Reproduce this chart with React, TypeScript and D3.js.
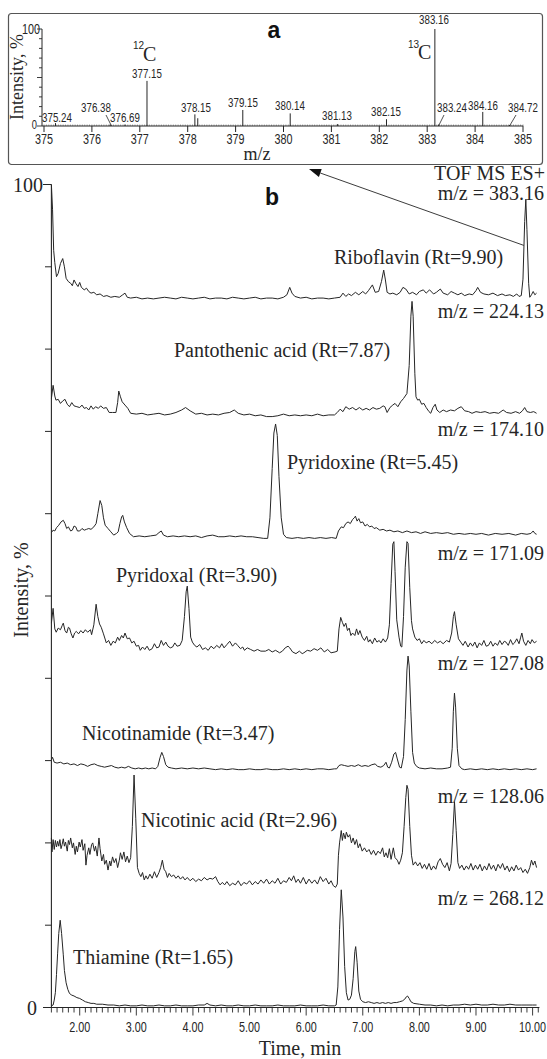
import React from 'react';
import * as d3 from 'd3';

type Pt = [number, number];

// ---------- Panel b : chromatogram traces (time, min ; stacked intensity on the 0-100 axis) ----------
const riboflavin: Pt[] = [
[1.50,100],[1.52,97],[1.54,92],[1.56,90.5],[1.59,88.8],[1.62,89.2],[1.66,90.4],[1.70,91.0],[1.73,90.0],[1.76,88.6],[1.80,88.2],[1.84,88.0],[1.87,87.7],[1.90,88.4],[1.93,88.0],[1.97,87.6],[2.00,88.1],[2.03,87.5],[2.08,87.2],[2.12,87.4],[2.16,87.0],[2.20,86.8],[2.25,86.9],[2.30,86.6],[2.36,86.7],[2.42,86.4],[2.48,86.5],[2.55,86.3],[2.62,86.4],[2.70,86.3],[2.76,86.6],[2.80,86.8],[2.84,86.3],[2.90,86.2],[3.00,86.3],[3.10,86.1],[3.20,86.2],[3.30,86.1],[3.40,86.2],[3.50,86.3],[3.60,86.2],[3.70,86.1],[3.80,86.3],[3.90,86.2],[4.00,86.1],[4.10,86.2],[4.20,86.3],[4.30,86.1],[4.40,86.2],[4.50,86.2],[4.60,86.1],[4.70,86.3],[4.80,86.2],[4.90,86.1],[5.00,86.2],[5.10,86.3],[5.20,86.1],[5.30,86.2],[5.40,86.2],[5.50,86.1],[5.60,86.3],[5.66,86.6],[5.71,87.5],[5.75,86.8],[5.80,86.4],[5.90,86.2],[6.00,86.3],[6.10,86.1],[6.20,86.2],[6.30,86.2],[6.40,86.1],[6.50,86.2],[6.60,86.3],[6.65,86.8],[6.70,86.4],[6.75,86.7],[6.80,86.5],[6.87,86.9],[6.93,86.6],[7.00,87.0],[7.05,86.7],[7.10,87.1],[7.17,87.8],[7.22,86.9],[7.28,87.0],[7.33,88.2],[7.37,89.6],[7.40,88.4],[7.43,86.9],[7.48,86.7],[7.53,86.8],[7.60,86.6],[7.66,86.9],[7.71,87.5],[7.76,87.3],[7.82,86.7],[7.88,86.9],[7.95,86.6],[8.00,87.0],[8.07,87.2],[8.12,86.8],[8.18,87.2],[8.25,86.7],[8.30,86.9],[8.37,87.3],[8.42,86.8],[8.50,86.6],[8.56,87.0],[8.62,86.8],[8.68,86.6],[8.74,86.8],[8.80,86.5],[8.88,86.7],[8.94,86.6],[9.00,87.1],[9.03,87.5],[9.08,86.9],[9.14,86.7],[9.22,86.6],[9.30,86.8],[9.38,86.5],[9.46,86.7],[9.52,86.5],[9.60,86.6],[9.66,86.4],[9.72,86.7],[9.76,86.4],[9.80,86.5],[9.83,88.5],[9.86,95.5],[9.88,98.2],[9.90,94.5],[9.93,88],[9.95,86.3],[9.98,86.6],[10.01,87.0],[10.04,86.6],[10.07,86.8]
];

const pantothenic: Pt[] = [
[1.50,74.0],[1.53,75.6],[1.56,74.3],[1.58,73.8],[1.62,73.9],[1.66,73.4],[1.70,73.7],[1.74,73.9],[1.78,73.3],[1.82,73.0],[1.86,73.5],[1.90,73.1],[1.95,73.0],[2.00,72.9],[2.04,73.2],[2.08,72.8],[2.12,72.9],[2.16,72.6],[2.20,73.1],[2.24,72.7],[2.28,73.0],[2.33,72.8],[2.37,73.1],[2.42,72.8],[2.47,72.9],[2.52,72.3],[2.58,72.3],[2.64,72.3],[2.67,73.5],[2.69,74.9],[2.72,74.2],[2.75,73.6],[2.80,73.2],[2.85,72.8],[2.90,72.2],[3.00,72.1],[3.10,72.2],[3.20,72.0],[3.30,72.1],[3.40,72.2],[3.50,72.0],[3.60,72.1],[3.70,72.3],[3.80,72.6],[3.87,72.9],[3.95,72.5],[4.05,72.1],[4.15,72.2],[4.25,72.0],[4.35,72.1],[4.45,72.0],[4.55,72.2],[4.65,72.3],[4.73,72.6],[4.80,72.2],[4.90,72.0],[5.00,72.1],[5.10,71.9],[5.20,72.0],[5.30,71.8],[5.40,71.8],[5.50,71.9],[5.60,72.1],[5.70,71.9],[5.80,72.0],[5.90,71.9],[6.00,72.0],[6.10,71.9],[6.20,72.1],[6.30,71.9],[6.40,72.0],[6.50,72.0],[6.55,72.3],[6.60,72.7],[6.65,72.4],[6.70,73.0],[6.76,72.7],[6.82,72.9],[6.88,72.6],[6.94,72.9],[7.00,72.6],[7.06,72.8],[7.12,72.6],[7.18,72.9],[7.24,72.7],[7.30,72.8],[7.36,73.1],[7.39,73.0],[7.43,72.3],[7.48,72.9],[7.53,73.2],[7.57,73.4],[7.62,73.0],[7.67,73.6],[7.72,74.0],[7.78,74.6],[7.82,78],[7.85,84],[7.87,85.8],[7.89,84],[7.92,77],[7.94,74.2],[7.97,73.8],[8.00,73.9],[8.04,73.3],[8.08,73.4],[8.12,72.9],[8.17,72.4],[8.20,72.2],[8.24,72.9],[8.28,73.3],[8.31,72.6],[8.36,72.3],[8.42,72.6],[8.48,72.4],[8.55,72.6],[8.62,72.5],[8.68,72.8],[8.74,73.0],[8.80,72.5],[8.87,72.4],[8.93,72.2],[9.00,72.4],[9.08,72.3],[9.16,72.4],[9.24,72.2],[9.32,72.3],[9.40,72.2],[9.48,72.6],[9.54,72.3],[9.62,72.2],[9.70,72.4],[9.77,72.2],[9.82,72.5],[9.86,72.9],[9.90,72.4],[9.96,72.3],[10.02,72.4],[10.07,72.2]
];

const pyridoxine: Pt[] = [
[1.50,57.7],[1.53,58.0],[1.56,57.9],[1.59,58.3],[1.63,58.6],[1.67,59.0],[1.71,59.2],[1.74,58.8],[1.77,58.2],[1.80,58.4],[1.84,57.9],[1.87,58.0],[1.90,58.5],[1.93,58.4],[1.96,57.9],[2.00,57.9],[2.04,58.2],[2.08,58.0],[2.12,58.1],[2.16,58.2],[2.20,58.1],[2.25,58.4],[2.29,58.8],[2.32,60.0],[2.36,61.6],[2.39,61.0],[2.42,59.5],[2.45,58.6],[2.50,58.2],[2.55,57.8],[2.60,57.4],[2.65,57.6],[2.68,57.8],[2.71,58.8],[2.74,59.6],[2.76,59.8],[2.79,59.0],[2.83,58.3],[2.88,57.6],[2.95,57.2],[3.05,57.3],[3.15,57.2],[3.25,57.3],[3.35,57.4],[3.40,57.7],[3.44,57.9],[3.48,57.4],[3.55,57.2],[3.65,57.3],[3.75,57.2],[3.85,57.3],[3.95,57.2],[4.05,57.3],[4.15,57.1],[4.25,57.3],[4.35,57.4],[4.45,57.2],[4.55,57.2],[4.65,57.3],[4.75,57.2],[4.85,57.3],[4.95,57.2],[5.05,57.2],[5.15,57.1],[5.25,57.0],[5.32,57.0],[5.36,59.5],[5.40,65.5],[5.43,69.8],[5.46,70.9],[5.49,69.5],[5.52,64.5],[5.56,59.5],[5.60,57.5],[5.65,57.1],[5.75,57.0],[5.85,57.1],[5.95,57.0],[6.05,57.1],[6.15,57.0],[6.25,57.1],[6.35,57.0],[6.45,57.1],[6.53,57.0],[6.57,57.9],[6.62,58.4],[6.66,58.3],[6.70,58.8],[6.74,59.0],[6.78,58.8],[6.82,59.3],[6.85,59.5],[6.87,59.7],[6.90,59.1],[6.93,59.4],[6.96,58.9],[7.00,59.0],[7.04,58.5],[7.08,58.7],[7.12,58.4],[7.16,58.5],[7.20,58.2],[7.24,58.3],[7.30,58.0],[7.36,58.1],[7.42,57.9],[7.48,58.0],[7.55,57.8],[7.62,57.9],[7.70,57.7],[7.78,57.9],[7.86,57.7],[7.94,57.8],[8.02,57.6],[8.10,57.8],[8.20,57.6],[8.30,57.7],[8.40,57.6],[8.50,57.7],[8.60,57.5],[8.70,57.6],[8.80,57.5],[8.90,57.6],[9.00,57.5],[9.10,57.6],[9.22,57.4],[9.34,57.6],[9.46,57.5],[9.58,57.6],[9.70,57.4],[9.80,57.6],[9.90,57.5],[9.97,57.6],[10.01,57.9],[10.04,57.6],[10.07,57.5]
];

const pyridoxal: Pt[] = [
[1.50,46.7],[1.53,48.5],[1.56,46.0],[1.585,45.6],[1.62,46.1],[1.66,45.9],[1.69,46.4],[1.71,46.7],[1.74,45.8],[1.77,45.5],[1.80,46.2],[1.82,46.1],[1.85,45.4],[1.88,44.9],[1.91,45.5],[1.94,45.7],[1.98,45.4],[2.02,45.8],[2.06,45.5],[2.10,45.9],[2.14,45.6],[2.19,45.9],[2.21,45.3],[2.25,46.5],[2.29,49.0],[2.32,47.5],[2.35,46.6],[2.38,46.2],[2.42,45.4],[2.47,44.3],[2.51,44.6],[2.55,44.0],[2.59,44.5],[2.63,44.3],[2.67,45.0],[2.70,44.6],[2.74,45.2],[2.77,44.9],[2.80,45.5],[2.84,44.8],[2.88,44.9],[2.92,44.3],[2.96,44.5],[3.00,43.9],[3.04,44.0],[3.07,43.4],[3.11,43.8],[3.15,43.5],[3.19,43.9],[3.23,43.4],[3.28,43.6],[3.32,44.2],[3.36,43.7],[3.40,43.8],[3.44,44.6],[3.48,44.0],[3.52,44.4],[3.56,43.9],[3.60,43.7],[3.64,43.8],[3.68,44.3],[3.72,43.9],[3.77,44.0],[3.81,44.6],[3.85,47.5],[3.88,50.5],[3.90,51.2],[3.93,48.5],[3.96,45.0],[3.99,44.4],[4.03,44.0],[4.07,43.8],[4.12,44.1],[4.17,43.5],[4.22,43.7],[4.27,43.4],[4.32,43.9],[4.37,43.6],[4.42,44.0],[4.47,43.7],[4.51,44.2],[4.55,43.7],[4.60,44.1],[4.65,44.5],[4.70,43.9],[4.75,44.3],[4.79,44.0],[4.84,43.6],[4.88,43.8],[4.91,43.4],[4.96,43.7],[5.02,43.5],[5.08,43.3],[5.14,43.5],[5.20,43.3],[5.28,43.3],[5.34,43.5],[5.40,43.2],[5.46,43.4],[5.53,43.1],[5.58,43.3],[5.63,43.7],[5.68,43.9],[5.71,43.7],[5.76,43.2],[5.82,43.0],[5.88,43.3],[5.93,43.0],[5.96,43.1],[6.02,43.4],[6.08,43.3],[6.14,43.6],[6.20,43.4],[6.26,43.7],[6.32,43.2],[6.38,43.5],[6.44,43.1],[6.51,43.2],[6.55,43.3],[6.58,46.0],[6.61,47.4],[6.64,46.8],[6.67,46.3],[6.70,46.7],[6.73,45.8],[6.76,46.1],[6.79,45.2],[6.82,45.5],[6.86,45.2],[6.89,46.0],[6.92,45.3],[6.95,45.8],[6.99,45.0],[7.03,44.6],[7.07,45.1],[7.10,44.4],[7.13,44.7],[7.17,44.2],[7.21,44.9],[7.25,44.4],[7.29,44.6],[7.32,44.3],[7.36,44.8],[7.40,44.4],[7.44,44.9],[7.47,46.5],[7.50,51.5],[7.53,56.3],[7.55,56.6],[7.57,53],[7.60,47.1],[7.64,45.0],[7.67,43.9],[7.69,43.8],[7.72,47.5],[7.75,53.5],[7.78,56.6],[7.80,56.4],[7.83,51],[7.86,47.0],[7.88,46.0],[7.92,45.0],[7.96,44.6],[8.00,44.8],[8.04,44.2],[8.08,44.6],[8.12,44.3],[8.17,44.5],[8.22,44.2],[8.27,44.6],[8.32,44.3],[8.37,44.5],[8.42,44.2],[8.48,44.6],[8.53,44.4],[8.57,45.5],[8.60,47.5],[8.62,48.1],[8.65,46.5],[8.69,44.8],[8.73,44.4],[8.77,44.0],[8.81,44.5],[8.86,43.8],[8.90,44.3],[8.94,43.9],[8.98,44.4],[9.02,43.7],[9.06,44.3],[9.10,44.0],[9.14,44.6],[9.18,43.9],[9.22,44.0],[9.26,44.5],[9.30,43.9],[9.34,44.3],[9.38,44.0],[9.42,44.6],[9.46,44.1],[9.50,44.5],[9.53,44.4],[9.57,44.0],[9.61,44.7],[9.65,44.1],[9.68,44.3],[9.72,44.8],[9.76,44.2],[9.79,45.0],[9.81,45.5],[9.84,44.5],[9.88,44.0],[9.92,44.6],[9.96,44.2],[9.99,44.7],[10.03,44.3],[10.07,44.5]
];

const nicotinamide: Pt[] = [
[1.50,30.1],[1.52,30.4],[1.55,29.8],[1.60,29.7],[1.66,29.8],[1.72,29.6],[1.78,29.7],[1.84,29.5],[1.90,29.6],[1.96,29.4],[2.02,29.6],[2.08,29.5],[2.14,29.3],[2.20,29.5],[2.26,29.6],[2.32,29.4],[2.38,29.3],[2.44,29.2],[2.50,29.3],[2.56,29.4],[2.62,29.2],[2.68,29.1],[2.74,29.2],[2.80,29.1],[2.86,29.3],[2.92,29.1],[2.98,29.0],[3.04,29.1],[3.10,29.0],[3.16,29.1],[3.22,29.0],[3.28,29.1],[3.34,29.0],[3.38,29.3],[3.42,30.4],[3.45,31.0],[3.48,30.5],[3.52,29.5],[3.56,29.2],[3.62,29.1],[3.70,29.0],[3.80,29.1],[3.90,29.0],[4.00,29.1],[4.10,29.0],[4.20,29.1],[4.30,29.0],[4.40,28.9],[4.50,29.0],[4.60,28.9],[4.70,29.0],[4.80,28.9],[4.90,28.9],[5.00,29.0],[5.10,28.9],[5.20,28.9],[5.30,29.0],[5.40,28.9],[5.50,28.9],[5.60,29.0],[5.70,28.9],[5.80,29.0],[5.90,28.9],[6.00,29.0],[6.10,28.9],[6.20,29.0],[6.30,29.0],[6.40,28.9],[6.50,29.0],[6.54,29.0],[6.58,29.4],[6.62,29.5],[6.68,29.4],[6.74,29.3],[6.80,29.4],[6.86,29.3],[6.92,29.5],[6.98,29.3],[7.04,29.4],[7.10,29.3],[7.16,29.5],[7.22,29.6],[7.26,29.3],[7.32,29.2],[7.37,29.4],[7.41,29.8],[7.44,29.2],[7.47,29.1],[7.51,29.8],[7.55,30.8],[7.58,31.0],[7.61,30.2],[7.65,29.2],[7.68,29.1],[7.72,30.5],[7.75,35],[7.78,41],[7.80,42.7],[7.82,41.5],[7.85,36],[7.88,31],[7.91,29.7],[7.95,29.3],[8.00,29.1],[8.10,29.0],[8.20,29.1],[8.30,29.0],[8.40,29.0],[8.50,29.1],[8.55,29.2],[8.58,31.5],[8.60,36],[8.62,38.2],[8.64,36.5],[8.67,31.5],[8.70,29.4],[8.75,29.0],[8.80,28.9],[8.90,29.0],[9.00,28.9],[9.10,29.0],[9.20,28.9],[9.30,29.0],[9.40,28.9],[9.50,29.0],[9.60,28.9],[9.70,29.0],[9.80,28.9],[9.90,29.0],[10.00,28.9],[10.07,29.0]
];

const nicotinicAcid: Pt[] = [
[1.50,20.6],[1.51,18.9],[1.53,20.4],[1.55,19.2],[1.57,20.3],[1.59,19.5],[1.61,20.2],[1.63,19.6],[1.65,20.4],[1.67,19.3],[1.69,19.8],[1.71,20.5],[1.73,19.6],[1.75,20.1],[1.78,19.0],[1.80,20.3],[1.82,19.8],[1.84,20.6],[1.87,19.4],[1.89,20.0],[1.92,18.6],[1.94,19.6],[1.96,18.9],[1.99,20.1],[2.01,19.5],[2.04,20.4],[2.06,19.1],[2.09,19.9],[2.11,17.3],[2.13,18.5],[2.16,19.4],[2.18,18.6],[2.21,19.8],[2.23,20.0],[2.26,19.0],[2.28,19.6],[2.31,18.4],[2.34,20.6],[2.36,19.3],[2.39,17.8],[2.42,18.6],[2.44,17.4],[2.47,17.9],[2.50,16.7],[2.53,17.8],[2.55,17.2],[2.58,18.3],[2.61,17.6],[2.64,18.1],[2.67,17.0],[2.70,17.9],[2.72,18.8],[2.75,18.0],[2.78,18.9],[2.81,17.7],[2.84,18.4],[2.87,17.6],[2.90,18.2],[2.93,22],[2.96,28.25],[2.99,23],[3.02,17.0],[3.05,16.3],[3.08,15.9],[3.11,16.4],[3.14,15.5],[3.17,16.0],[3.20,15.6],[3.24,16.2],[3.28,15.7],[3.32,16.5],[3.36,15.8],[3.40,16.4],[3.43,17.0],[3.46,17.9],[3.49,16.8],[3.52,16.5],[3.55,15.8],[3.58,16.3],[3.62,15.9],[3.66,16.1],[3.70,15.7],[3.74,16.0],[3.78,15.6],[3.82,15.9],[3.86,15.5],[3.90,15.8],[3.95,15.4],[4.00,15.7],[4.05,15.3],[4.10,15.6],[4.15,15.4],[4.20,15.8],[4.25,15.5],[4.30,15.7],[4.35,15.6],[4.40,15.9],[4.44,15.3],[4.48,14.9],[4.52,15.2],[4.56,14.9],[4.60,15.3],[4.65,14.8],[4.70,15.1],[4.75,14.9],[4.80,15.4],[4.85,14.8],[4.90,15.2],[4.95,15.0],[5.00,15.4],[5.05,14.9],[5.10,15.3],[5.15,15.0],[5.20,15.5],[5.25,15.1],[5.30,15.6],[5.35,15.0],[5.40,15.4],[5.45,15.1],[5.50,15.7],[5.55,15.0],[5.60,15.4],[5.65,15.2],[5.70,15.8],[5.74,15.4],[5.78,16.0],[5.82,15.2],[5.86,15.6],[5.90,15.1],[5.95,15.8],[6.00,15.0],[6.05,15.6],[6.10,15.1],[6.15,15.5],[6.20,15.0],[6.25,15.9],[6.30,15.3],[6.35,15.7],[6.40,15.0],[6.44,15.4],[6.48,14.8],[6.52,14.6],[6.55,15.0],[6.57,18.5],[6.59,20.0],[6.62,21.5],[6.64,20.3],[6.66,21.2],[6.69,20.5],[6.71,21.3],[6.74,20.7],[6.77,21.0],[6.80,20.0],[6.83,20.6],[6.86,19.8],[6.89,20.4],[6.92,19.4],[6.95,19.9],[6.99,19.0],[7.03,19.4],[7.07,18.9],[7.11,19.2],[7.15,18.6],[7.19,19.1],[7.23,18.5],[7.27,19.0],[7.31,18.7],[7.35,19.4],[7.38,18.3],[7.41,18.8],[7.44,18.2],[7.47,19.3],[7.50,18.0],[7.54,19.4],[7.57,18.2],[7.61,17.9],[7.64,17.4],[7.67,17.9],[7.70,18.8],[7.73,22],[7.76,25.5],[7.78,27.0],[7.80,26.5],[7.83,22],[7.86,18.5],[7.89,17.3],[7.93,17.7],[7.97,17.2],[8.01,17.6],[8.05,16.9],[8.09,17.4],[8.13,16.8],[8.17,17.5],[8.21,16.7],[8.25,17.2],[8.29,16.8],[8.33,17.7],[8.37,18.1],[8.41,17.4],[8.45,17.0],[8.49,17.6],[8.53,16.6],[8.56,17.5],[8.59,21],[8.62,25.0],[8.65,21.5],[8.68,17.6],[8.71,16.9],[8.75,17.3],[8.79,16.7],[8.83,17.2],[8.87,16.8],[8.91,17.5],[8.95,16.7],[8.99,17.3],[9.03,16.8],[9.07,17.4],[9.11,16.6],[9.15,17.2],[9.19,16.7],[9.23,17.5],[9.27,16.8],[9.31,17.3],[9.35,16.6],[9.39,17.4],[9.43,16.9],[9.47,17.5],[9.51,16.7],[9.55,17.2],[9.59,16.5],[9.63,17.1],[9.67,16.6],[9.71,17.3],[9.75,16.7],[9.79,17.0],[9.83,16.4],[9.87,16.8],[9.91,16.3],[9.95,17.0],[9.98,17.9],[10.01,17.3],[10.04,17.8],[10.07,17.0]
];

const thiamine: Pt[] = [
[1.50,0.2],[1.53,0.3],[1.55,0.9],[1.57,1.8],[1.59,4.0],[1.61,6.6],[1.63,9.0],[1.655,10.6],[1.68,9.0],[1.71,6.4],[1.73,4.5],[1.76,3.0],[1.79,2.2],[1.82,1.7],[1.86,1.5],[1.90,1.4],[1.95,1.2],[2.00,1.1],[2.05,0.9],[2.10,0.7],[2.15,0.6],[2.20,0.5],[2.25,0.5],[2.30,0.4],[2.40,0.4],[2.50,0.3],[2.60,0.3],[2.70,0.2],[2.80,0.3],[2.90,0.2],[3.00,0.2],[3.10,0.3],[3.20,0.2],[3.30,0.2],[3.40,0.3],[3.50,0.2],[3.60,0.2],[3.70,0.3],[3.80,0.2],[3.90,0.2],[4.00,0.2],[4.10,0.3],[4.20,0.3],[4.25,0.5],[4.30,0.3],[4.40,0.2],[4.50,0.3],[4.60,0.2],[4.70,0.2],[4.80,0.3],[4.90,0.2],[5.00,0.2],[5.10,0.3],[5.20,0.2],[5.30,0.2],[5.40,0.2],[5.50,0.3],[5.60,0.2],[5.70,0.2],[5.80,0.2],[5.90,0.3],[6.00,0.2],[6.10,0.2],[6.20,0.2],[6.30,0.3],[6.40,0.2],[6.50,0.2],[6.53,0.3],[6.56,2.5],[6.59,9.5],[6.62,14.3],[6.65,11],[6.68,5],[6.71,1.8],[6.74,0.9],[6.77,1.0],[6.80,1.5],[6.83,3.5],[6.86,6.8],[6.875,7.4],[6.90,5.5],[6.93,2.0],[6.96,1.0],[7.00,0.7],[7.05,0.6],[7.10,0.7],[7.15,0.6],[7.20,0.5],[7.25,0.6],[7.30,0.5],[7.35,0.6],[7.40,0.5],[7.45,0.6],[7.50,0.5],[7.55,0.6],[7.60,0.6],[7.65,0.7],[7.70,0.8],[7.74,1.0],[7.77,1.3],[7.79,1.4],[7.82,1.1],[7.85,0.7],[7.90,0.5],[8.00,0.4],[8.10,0.3],[8.20,0.3],[8.30,0.2],[8.40,0.3],[8.50,0.2],[8.60,0.3],[8.70,0.3],[8.80,0.4],[8.90,0.3],[9.00,0.4],[9.10,0.3],[9.20,0.3],[9.30,0.4],[9.40,0.3],[9.50,0.3],[9.60,0.4],[9.70,0.3],[9.80,0.3],[9.90,0.3],[10.00,0.3],[10.07,0.3]
];

const compoundLabels = [
  'Riboflavin (Rt=9.90)', 'Pantothenic acid (Rt=7.87)', 'Pyridoxine (Rt=5.45)',
  'Pyridoxal (Rt=3.90)', 'Nicotinamide (Rt=3.47)', 'Nicotinic acid (Rt=2.96)', 'Thiamine (Rt=1.65)',
];
const mzLabels = ['m/z = 383.16', 'm/z = 224.13', 'm/z = 174.10', 'm/z = 171.09', 'm/z = 127.08', 'm/z = 128.06', 'm/z = 268.12'];

const timeTicks = [2, 3, 4, 5, 6, 7, 8, 9, 10];
const timeTickLabels = ['2.00', '3.00', '4.00', '5.00', '6.00', '7.00', '8.00', '9.00', '10.00'];
const yTicks = [0, 10, 20, 30, 40, 50, 60, 70, 80, 90, 100];

// ---------- Panel a : mass spectrum ----------
const peakMz = [375.24, 376.38, 376.69, 377.15, 378.15, 378.21, 379.15, 380.14, 381.13, 382.15, 383.16, 383.24, 384.16, 384.72];
const peakIntensity = [3, 1.5, 1.5, 46.5, 12, 8, 16.5, 13, 2, 7, 100, 1.5, 14.5, 1];
const peakLabels = ['375.24', '376.38', '376.69', '377.15', '378.15', '', '379.15', '380.14', '381.13', '382.15', '383.16', '383.24', '384.16', '384.72'];
const mzTicks = [375, 376, 377, 378, 379, 380, 381, 382, 383, 384, 385];

// ---------- layout (pixels) ----------
const W = 547, H = 1059;
const traceLabelPos: [number, number][] = [[334, 264], [174, 357], [287, 469], [116, 582], [82, 740], [141, 827], [73, 964]];
const mzLabelY = [200, 318, 436, 560, 670, 803, 905];
const peakLabelPos: [number, number][] = [[57, 122], [96, 112], [125, 122], [147, 78], [196, 112], [0, 0], [243, 107], [290, 110], [337, 120], [386, 116], [434, 24], [452, 112], [483, 110], [523, 112]];
const leaders: [number, number, number, number][] = [[106, 115, 111.5, 126], [444, 115, 438.5, 126], [516, 115, 509.5, 126]];

const serif = '"Liberation Serif", "Times New Roman", serif';
const sans = '"Liberation Sans", Arial, sans-serif';
const ink = '#262626';

export default function App() {
  const x = d3.scaleLinear().domain([1.5, 10.12]).range([51.4, 539.4]);
  const y = d3.scaleLinear().domain([0, 100]).range([1007.5, 184.5]);
  const line = d3.line<Pt>().x(d => x(d[0])).y(d => y(d[1]));

  const traces = [riboflavin, pantothenic, pyridoxine, pyridoxal, nicotinamide, nicotinicAcid, thiamine];

  const mx = d3.scaleLinear().domain([375, 385]).range([44, 523]);
  const my = d3.scaleLinear().domain([0, 100]).range([126, 29]);

  const minorT = d3.range(15, 102).map(i => i / 10);
  const mzMinor = d3.range(0, 201).map(i => 375 + i * 0.05);

  const ax0 = x(9.845), ay0 = y(92.6);
  const ax1 = 309, ay1 = 169;
  const ang = Math.atan2(ay0 - ay1, ax0 - ax1);
  const ah = 12, aw = 4.2;
  const bx = ax1 + ah * Math.cos(ang), by = ay1 + ah * Math.sin(ang);
  const arrowHead = `${ax1},${ay1} ${bx - aw * Math.sin(ang)},${by + aw * Math.cos(ang)} ${bx + aw * Math.sin(ang)},${by - aw * Math.cos(ang)}`;

  const narrow = (tx: number, ty: number, s = 0.72) => `translate(${tx},${ty}) scale(${s},1)`;

  return (
    <svg width={W} height={H} viewBox={`0 0 ${W} ${H}`} style={{ position: 'absolute', left: 0, top: 0, background: '#fff' }}>
      <rect x={0} y={0} width={W} height={H} fill="#fff" />

      {/* ---------------- Panel a ---------------- */}
      <rect x={8.5} y={13.5} width={534} height={151} rx={3} fill="none" stroke="#555" strokeWidth={1.2} />
      <text x={274} y={38} textAnchor="middle" fontFamily={sans} fontWeight="bold" fontSize={23} fill="#111">a</text>
      <text transform={`translate(23,77) rotate(-90)`} textAnchor="middle" fontFamily={serif} fontSize={18} fill={ink}>Intensity, %</text>
      <line x1={42} x2={42} y1={29} y2={126} stroke={ink} strokeWidth={1} />
      <line x1={42} x2={523} y1={126} y2={126} stroke={ink} strokeWidth={1} />
      {d3.range(0, 101, 10).map(v => (
        <line key={'iy' + v} x1={v % 50 === 0 ? 37 : 39} x2={42} y1={my(v)} y2={my(v)} stroke={ink} strokeWidth={0.9} />
      ))}
      <text transform={narrow(40, 34)} textAnchor="end" fontFamily={sans} fontSize={15} fill={ink}>100</text>
      <text transform={narrow(37, 129)} textAnchor="end" fontFamily={sans} fontSize={13} fill={ink}>0</text>
      {mzMinor.map((m, i) => (
        <line key={'mm' + i} x1={mx(m)} x2={mx(m)} y1={126} y2={124.6} stroke="#555" strokeWidth={0.7} />
      ))}
      {mzTicks.map(m => (
        <g key={'mt' + m}>
          <line x1={mx(m)} x2={mx(m)} y1={126} y2={132} stroke={ink} strokeWidth={1} />
          <text transform={narrow(mx(m), 144)} textAnchor="middle" fontFamily={sans} fontSize={15} fill={ink}>{m}</text>
        </g>
      ))}
      {peakMz.map((m, i) => (
        <line key={'pk' + i} x1={mx(m)} x2={mx(m)} y1={126} y2={my(peakIntensity[i])} stroke={ink} strokeWidth={1} />
      ))}
      {peakLabels.map((lab, i) => lab ? (
        <text key={'pl' + i} transform={narrow(peakLabelPos[i][0], peakLabelPos[i][1], 0.78)} textAnchor="middle" fontFamily={sans} fontSize={12.5} fill={ink}>{lab}</text>
      ) : null)}
      {leaders.map((l, i) => (
        <line key={'ld' + i} x1={l[0]} y1={l[1]} x2={l[2]} y2={l[3]} stroke={ink} strokeWidth={0.8} />
      ))}
      <text x={133} y={49} fontFamily={sans} fontSize={10} fill={ink}>12</text>
      <text x={143} y={61} fontFamily={serif} fontSize={20} fill={ink}>C</text>
      <text x={408} y={48} fontFamily={sans} fontSize={10} fill={ink}>13</text>
      <text x={418} y={59} fontFamily={serif} fontSize={20} fill={ink}>C</text>
      <text x={257} y={160} textAnchor="middle" fontFamily={serif} fontSize={18} fill={ink}>m/z</text>

      {/* ---------------- Panel b ---------------- */}
      <text x={272} y={205} textAnchor="middle" fontFamily={sans} fontWeight="bold" fontSize={23} fill="#111">b</text>
      <text x={545} y={180} textAnchor="end" fontFamily={serif} fontSize={20} fill={ink}>TOF MS ES+</text>

      <line x1={x(1.5)} x2={x(1.5)} y1={y(100)} y2={y(0)} stroke={ink} strokeWidth={1.1} />
      <line x1={43} x2={x(10.12)} y1={y(0)} y2={y(0)} stroke={ink} strokeWidth={1.1} />
      {yTicks.map(v => (
        <line key={'yt' + v} x1={v === 0 || v === 100 ? 43 : 45} x2={x(1.5)} y1={y(v)} y2={y(v)} stroke={ink} strokeWidth={1} />
      ))}
      <text x={43} y={191.5} textAnchor="end" fontFamily={serif} fontSize={20} fill={ink}>100</text>
      <text x={37} y={1014.5} textAnchor="end" fontFamily={serif} fontSize={20} fill={ink}>0</text>
      {minorT.map((t, i) => (
        <line key={'xm' + i} x1={x(t)} x2={x(t)} y1={y(0)} y2={y(0) + (Math.abs(t - Math.round(t)) < 1e-6 ? 8 : 5)} stroke={ink} strokeWidth={0.9} />
      ))}
      {timeTicks.map((t, i) => (
        <text key={'xl' + t} transform={narrow(x(t), 1032)} textAnchor="middle" fontFamily={sans} fontSize={15} fill={ink}>{timeTickLabels[i]}</text>
      ))}
      <text x={300} y={1055} textAnchor="middle" fontFamily={serif} fontSize={20} fill={ink}>Time, min</text>
      <text transform={`translate(28,590) rotate(-90)`} textAnchor="middle" fontFamily={serif} fontSize={20} fill={ink}>Intensity, %</text>

      {traces.map((d, i) => (
        <path key={'tr' + i} d={line(d) || ''} fill="none" stroke={ink} strokeWidth={1} strokeLinejoin="round" />
      ))}
      {compoundLabels.map((lab, i) => (
        <text key={'cl' + i} x={traceLabelPos[i][0]} y={traceLabelPos[i][1]} fontFamily={serif} fontSize={20} fill={ink}>{lab}</text>
      ))}
      {mzLabels.map((lab, i) => (
        <text key={'mz' + i} x={544} y={mzLabelY[i]} textAnchor="end" fontFamily={serif} fontSize={20} fill={ink}>{lab}</text>
      ))}

      <line x1={ax0} y1={ay0} x2={bx} y2={by} stroke={ink} strokeWidth={0.9} />
      <polygon points={arrowHead} fill="#111" />
    </svg>
  );
}
